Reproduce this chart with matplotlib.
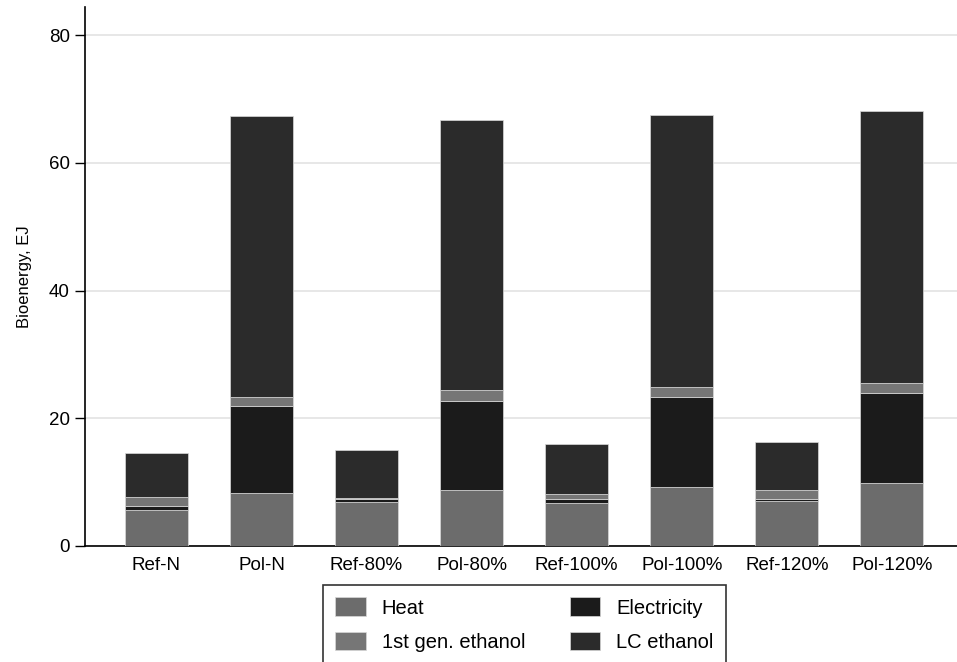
import matplotlib
matplotlib.use("Agg")
import matplotlib.pyplot as plt
import numpy as np

plt.rcParams['font.family'] = ['Liberation Sans', 'DejaVu Sans']

categories = ["Ref-N", "Pol-N", "Ref-80%", "Pol-80%", "Ref-100%", "Pol-100%", "Ref-120%", "Pol-120%"]
heat = [5.6, 8.25, 6.9, 8.7, 6.7, 9.3, 7.0, 9.9]
electricity = [0.7, 13.75, 0.5, 14.0, 0.7, 14.0, 0.4, 14.0]
first_gen = [1.3, 1.4, 0.1, 1.7, 0.8, 1.6, 1.3, 1.7]
lc_ethanol = [7.0, 43.9, 7.5, 42.3, 7.7, 42.6, 7.6, 42.5]
yticks = [0, 20, 40, 60, 80]

colors = {"Heat": "#6c6c6c", "1st gen. ethanol": "#767676",
          "Electricity": "#1b1b1b", "LC ethanol": "#2b2b2b"}

fig = plt.figure(figsize=(9.57, 6.62), dpi=100)
ax = fig.add_axes([85/957, 1 - 546/662, (957-85)/957, (546-7)/662])

x = np.arange(len(categories))
w = 0.6
series = [("Heat", heat), ("Electricity", electricity),
          ("1st gen. ethanol", first_gen), ("LC ethanol", lc_ethanol)]
bottom = np.zeros(len(categories))
handles = {}
for name, vals in series:
    b = ax.bar(x, vals, w, bottom=bottom, color=colors[name],
               edgecolor="#dadada", linewidth=0.5, label=name, zorder=3)
    handles[name] = b
    bottom += np.array(vals)

ax.set_xlim(-0.68, 7.62)
ax.set_ylim(0, 84.4)
ax.set_yticks(yticks)
ax.set_xticks(x)
ax.set_xticklabels(categories, fontsize=13.5)
ax.tick_params(axis='y', labelsize=13.5, length=7, width=1, direction='out', pad=4)
ax.tick_params(axis='x', length=0, pad=8)
ax.yaxis.grid(True, color="#e3e3e3", linewidth=1.2, zorder=0)
ax.set_axisbelow(True)
for s in ["top", "right"]:
    ax.spines[s].set_visible(False)
ax.spines["left"].set_linewidth(1.2)
ax.spines["bottom"].set_linewidth(1.2)
ax.set_ylabel("Bioenergy, EJ", fontsize=12, labelpad=12)

order = ["Heat", "1st gen. ethanol", "Electricity", "LC ethanol"]
leg = fig.legend([handles[n] for n in order], order, ncol=2,
                 loc="upper left", bbox_to_anchor=(323/957, 1 - 585/662),
                 borderaxespad=0.0,
                 fontsize=14.5, frameon=True, fancybox=False, edgecolor="black",
                 handlelength=1.5, handleheight=1.05, columnspacing=2.2,
                 borderpad=0.62, labelspacing=0.7, handletextpad=0.8)
leg.get_frame().set_linewidth(1.2)
for h in leg.legend_handles:
    h.set_edgecolor("#d8d8d8")

fig.savefig("out.png", dpi=100)
